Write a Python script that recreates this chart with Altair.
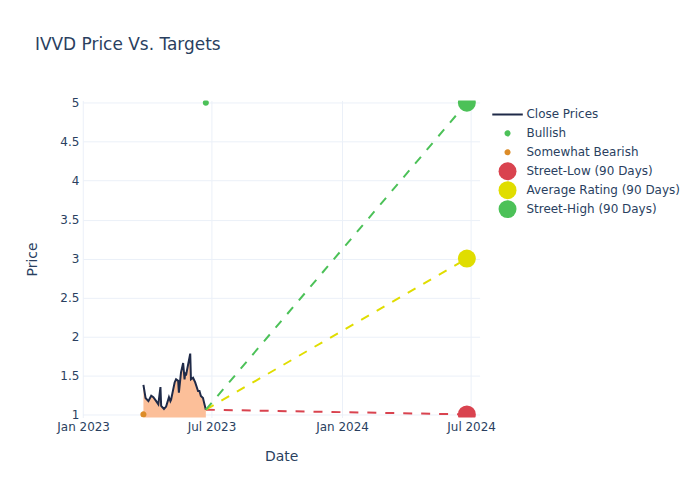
import altair as alt
import pandas as pd

# ---- data ----
close_dates = ["2023-03-27", "2023-03-30", "2023-04-03", "2023-04-07", "2023-04-10",
               "2023-04-14", "2023-04-17", "2023-04-20", "2023-04-21", "2023-04-25",
               "2023-04-28", "2023-05-02", "2023-05-04", "2023-05-05", "2023-05-10",
               "2023-05-12", "2023-05-15", "2023-05-16", "2023-05-19", "2023-05-22",
               "2023-05-24", "2023-05-25", "2023-05-26", "2023-06-01", "2023-06-02",
               "2023-06-05", "2023-06-08", "2023-06-12", "2023-06-14", "2023-06-16",
               "2023-06-19", "2023-06-20", "2023-06-23"]
close_values = [1.38, 1.21, 1.17, 1.24, 1.22,
                1.17, 1.13, 1.35, 1.11, 1.07,
                1.10, 1.22, 1.17, 1.19, 1.41,
                1.45, 1.43, 1.28, 1.54, 1.66,
                1.45, 1.54, 1.50, 1.78, 1.45,
                1.47, 1.41, 1.30, 1.30, 1.235,
                1.21, 1.17, 1.06]

rating_series = ["Bullish", "Somewhat Bearish"]
rating_dates = ["2023-06-23", "2023-03-27"]
rating_values = [5, 1]

target_series = ["Street-Low (90 Days)", "Average Rating (90 Days)", "Street-High (90 Days)"]
target_date = "2024-06-25"
target_values = [1, 3, 5]
target_colors = ["#d9434f", "#e0dd00", "#4cc158"]

legend_labels = ["Close Prices", "Bullish", "Somewhat Bearish"] + target_series
legend_colors = ["#1f2a48", "#4cc158", "#dc8c28"] + target_colors

x_ticks = ["2023-01-01", "2023-07-01", "2024-01-01", "2024-07-01"]
y_ticks = [1, 1.5, 2, 2.5, 3, 3.5, 4, 4.5, 5]

# ---- tables ----
close_df = pd.DataFrame({"date": close_dates, "price": close_values})
points_df = pd.DataFrame({
    "date": rating_dates + [target_date] * 3,
    "price": rating_values + target_values,
    "series": rating_series + target_series,
})

FONT = "DejaVu Sans"
TXT = "#2a3f5f"
GRID = "#ebf0f8"

x_enc = alt.X("date:T", title="Date",
              scale=alt.Scale(domain=["2022-12-31T12:00:00", "2024-07-13T00:00:00"], nice=False),
              axis=alt.Axis(values=[pd.Timestamp(t).value // 10**6 for t in x_ticks],
                            format="%b %Y", labelFlush=False, labelOverlap=False))
y_enc = alt.Y("price:Q", title="Price",
              scale=alt.Scale(domain=[0.96, 5.03], nice=False, zero=False),
              axis=alt.Axis(values=y_ticks, format="~g", labelOverlap=False))

area = alt.Chart(close_df).mark_area(color="#fcbf99", opacity=1, clip=True).encode(
    x=x_enc, y=y_enc)
line = alt.Chart(close_df).mark_line(color="#1f2a48", strokeWidth=2, clip=True).encode(
    x=x_enc, y=y_enc)

last_date = close_dates[-1]
last_val = close_values[-1]
dash_layers = []
for name, val, col in zip(target_series, target_values, target_colors):
    df = pd.DataFrame({"date": [last_date, target_date], "price": [last_val, val]})
    dash_layers.append(
        alt.Chart(df).mark_line(color=col, strokeWidth=2, strokeDash=[9, 9], clip=True)
        .encode(x=x_enc, y=y_enc))

# symbol shapes (all drawn at one symbol size; degenerate sub-paths keep
# every legend row the same height)
pad = "M0,-1L0.001,-1Z M0,1L0.001,1Z "
line_path = pad + "M-1.7,-0.11L1.7,-0.11L1.7,0.11L-1.7,0.11Z"
small_dot = pad + "M0.34,0A0.34,0.34 0 1,1 -0.34,0A0.34,0.34 0 1,1 0.34,0Z"
legend_shapes = [line_path, small_dot, small_dot, "circle", "circle", "circle"]

legend = alt.Legend(title=None, orient="none", legendX=417, legendY=5,
                    labelFont=FONT, labelFontSize=12, labelColor=TXT,
                    labelOffset=10, rowPadding=1, padding=0,
                    symbolOpacity=1, symbolStrokeWidth=0, symbolSize=324)
points = alt.Chart(points_df).mark_point(filled=True, opacity=1, clip=True, size=324).encode(
    x=x_enc, y=y_enc,
    color=alt.Color("series:N", scale=alt.Scale(type="ordinal", domain=legend_labels,
                    range=legend_colors), legend=legend),
    shape=alt.Shape("series:N", scale=alt.Scale(type="ordinal", domain=legend_labels,
                    range=legend_shapes), legend=legend),
)

chart = alt.layer(area, line, *dash_layers, points).properties(
    width=398, height=318,
    autosize=alt.AutoSizeParams(type="none"),
    padding={"left": 75, "top": 92, "right": 213, "bottom": 70},
    title=alt.TitleParams("IVVD Price Vs. Targets", anchor="start", frame="group",
                          dx=-48, offset=43, font=FONT, fontSize=17,
                          fontWeight="normal", color=TXT),
).configure_view(stroke=None).configure_axis(
    domain=False, ticks=False, gridColor=GRID, gridWidth=1,
    labelFont=FONT, labelFontSize=12, labelColor=TXT, labelPadding=4,
    titleFont=FONT, titleFontSize=14, titleColor=TXT, titleFontWeight="normal",
).configure_axisY(titlePadding=20).configure_axisX(titlePadding=17)

chart.save("out.html", embed_options={"renderer": "svg", "actions": False})
